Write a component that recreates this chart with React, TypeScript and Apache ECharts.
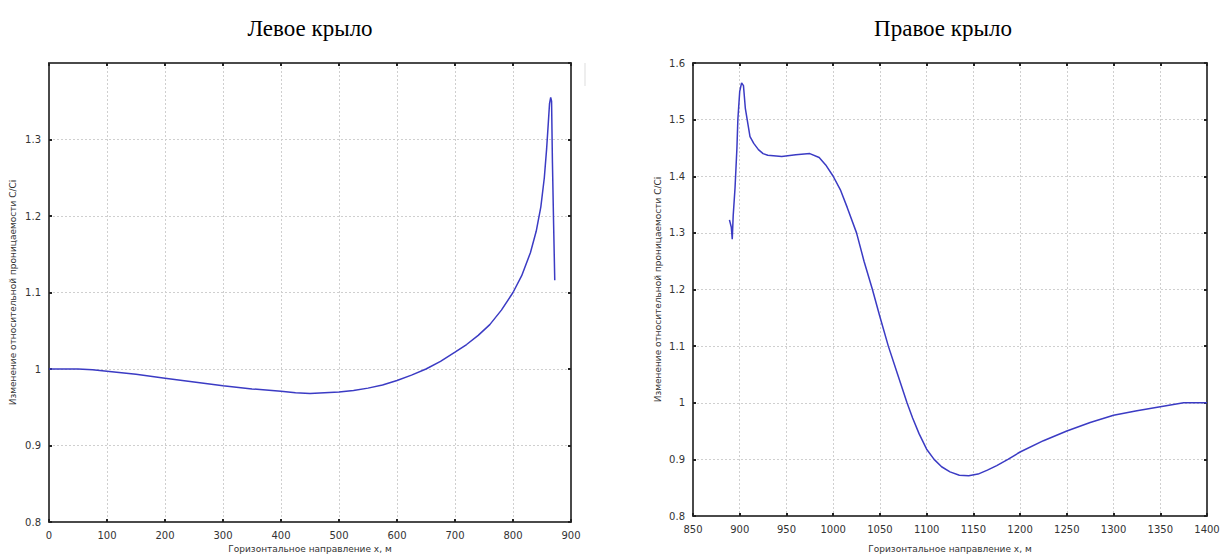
import React, { useEffect, useRef } from "react";
import * as echarts from "echarts";

const leftTitle = "Левое крыло";
const rightTitle = "Правое крыло";
const xName = "Горизонтальное направление x, м";
const yName = "Изменение относительной проницаемости C/Ci";

const leftX = [0, 25, 50, 75, 100, 150, 200, 250, 300, 350, 400, 425, 450, 475, 500, 525, 550, 575, 600, 625, 650, 675, 700, 720, 740, 760, 780, 800, 815, 830, 840, 848, 854, 858, 861, 863, 865, 866.5, 868, 870, 872];
const leftY = [1.0, 1.0, 1.0, 0.999, 0.997, 0.993, 0.988, 0.983, 0.978, 0.974, 0.971, 0.969, 0.968, 0.969, 0.970, 0.972, 0.975, 0.979, 0.985, 0.992, 1.0, 1.01, 1.022, 1.032, 1.044, 1.058, 1.077, 1.1, 1.122, 1.152, 1.18, 1.212, 1.25, 1.288, 1.323, 1.347, 1.355, 1.35, 1.27, 1.19, 1.116];

const rightX = [889, 891, 892, 893, 895, 897, 898, 900, 902, 904, 906, 909, 911, 915, 920, 925, 930, 945, 960, 975, 985, 992, 1000, 1008, 1015, 1025, 1033, 1042, 1050, 1059, 1069, 1079, 1085, 1092, 1100, 1108, 1116, 1125, 1135, 1145, 1155, 1165, 1175, 1187, 1200, 1225, 1250, 1275, 1300, 1325, 1350, 1375, 1400];
const rightY = [1.323, 1.31, 1.289, 1.33, 1.38, 1.45, 1.5, 1.55, 1.565, 1.56, 1.52, 1.49, 1.47, 1.458, 1.447, 1.44, 1.437, 1.435, 1.438, 1.44, 1.433, 1.42, 1.4, 1.375, 1.345, 1.3, 1.25, 1.2, 1.152, 1.1, 1.05, 1.0, 0.973, 0.945, 0.918, 0.9, 0.887, 0.878, 0.872, 0.871, 0.874, 0.881, 0.889, 0.9, 0.913, 0.933, 0.95, 0.965, 0.978, 0.986, 0.993, 1.0, 1.0];

const leftXTicks = { min: 0, max: 900, interval: 100 };
const leftYTicks = { min: 0.8, max: 1.4, interval: 0.1 };
const rightXTicks = { min: 850, max: 1400, interval: 50 };
const rightYTicks = { min: 0.8, max: 1.6, interval: 0.1 };

const LINE = "#3b3bc4";
const AXIS = "#4a4a4a";

function fmt(v: number) {
  return String(Math.round(v * 10) / 10);
}

export default function App() {
  const ref = useRef<HTMLDivElement>(null);
  useEffect(() => {
    const chart = echarts.init(ref.current!, null, { renderer: "svg" });
    const labelStyle = { color: "#333", fontSize: 10, fontFamily: "DejaVu Sans" };
    const nameStyle = { color: "#333", fontSize: 9, fontFamily: "DejaVu Sans" };
    const split = { show: true, lineStyle: { color: "#cfcfcf", type: [2, 2] as any, width: 1 } };
    const line = { show: true, onZero: false, lineStyle: { color: AXIS, width: 2 } };
    const tick = { show: true, inside: true, length: 3, lineStyle: { color: "#222", width: 2 } };
    const mkMainX = (gi: number, t: any, nameGap: number) => ({
      type: "value",
      gridIndex: gi,
      min: t.min,
      max: t.max,
      interval: t.interval,
      name: xName,
      nameLocation: "middle",
      nameGap,
      nameTextStyle: nameStyle,
      axisLine: line,
      axisTick: tick,
      axisLabel: { ...labelStyle, margin: 8, formatter: (v: number) => String(v) },
      splitLine: split,
    });
    const mkTopX = (gi: number, t: any) => ({
      type: "value",
      gridIndex: gi,
      position: "top",
      min: t.min,
      max: t.max,
      interval: t.interval,
      axisLine: line,
      axisTick: tick,
      axisLabel: { show: false },
      splitLine: { show: false },
    });
    const mkMainY = (gi: number, t: any, showMax: boolean, nameGap: number) => ({
      type: "value",
      gridIndex: gi,
      min: t.min,
      max: t.max,
      interval: t.interval,
      name: yName,
      nameLocation: "middle",
      nameGap,
      nameTextStyle: nameStyle,
      axisLine: line,
      axisTick: tick,
      axisLabel: { ...labelStyle, margin: 8, formatter: fmt, showMaxLabel: showMax },
      splitLine: split,
    });
    const mkRightY = (gi: number, t: any) => ({
      type: "value",
      gridIndex: gi,
      position: "right",
      min: t.min,
      max: t.max,
      interval: t.interval,
      axisLine: line,
      axisTick: tick,
      axisLabel: { show: false },
      splitLine: { show: false },
    });

    chart.setOption({
      animation: false,
      backgroundColor: "#fff",
      title: [
        { text: leftTitle, left: 305, top: 12, textAlign: "center", textStyle: { fontFamily: "Liberation Serif", fontSize: 23, fontWeight: "normal", color: "#000" } },
        { text: rightTitle, left: 938, top: 12, textAlign: "center", textStyle: { fontFamily: "Liberation Serif", fontSize: 23, fontWeight: "normal", color: "#000" } },
      ],
      grid: [
        { left: 49, top: 63, width: 522, height: 459 },
        { left: 693, top: 63, width: 514, height: 453 },
      ],
      xAxis: [
        mkMainX(0, leftXTicks, 22),
        mkMainX(1, rightXTicks, 28),
        mkTopX(0, leftXTicks),
        mkTopX(1, rightXTicks),
      ],
      yAxis: [
        mkMainY(0, leftYTicks, false, 32),
        mkMainY(1, rightYTicks, true, 31),
        mkRightY(0, leftYTicks),
        mkRightY(1, rightYTicks),
      ],
      series: [
        {
          type: "line",
          xAxisIndex: 0,
          yAxisIndex: 0,
          data: leftX.map((x, i) => [x, leftY[i]]),
          showSymbol: false,
          smooth: false,
          lineStyle: { color: LINE, width: 1.5 },
        },
        {
          type: "line",
          xAxisIndex: 1,
          yAxisIndex: 1,
          data: rightX.map((x, i) => [x, rightY[i]]),
          showSymbol: false,
          smooth: false,
          lineStyle: { color: LINE, width: 1.5 },
        },
      ],
      graphic: [
        { type: "line", shape: { x1: 585, y1: 63, x2: 585, y2: 86 }, style: { stroke: "#ddd", lineWidth: 1 } },
      ],
    });
    return () => chart.dispose();
  }, []);
  return <div ref={ref} style={{ position: "fixed", left: 0, top: 0, width: 1226, height: 560, background: "#fff" }} />;
}
